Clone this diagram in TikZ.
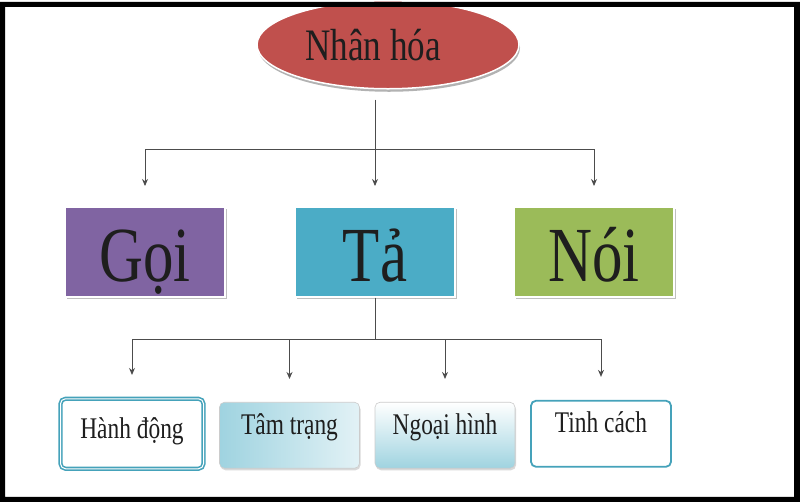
\documentclass[tikz,border=0pt]{standalone}
\usepackage{fontspec}
\setmainfont[FakeStretch=0.78]{Liberation Serif}
\usetikzlibrary{arrows.meta,shapes,shadows}

\definecolor{rootred}{HTML}{C0504D}
\definecolor{goipurple}{HTML}{8064A2}
\definecolor{tablue}{HTML}{4BACC6}
\definecolor{noigreen}{HTML}{9BBB59}
\definecolor{edgeteal}{HTML}{45A2BA}
\definecolor{softcyan}{HTML}{9FD3E0}
\definecolor{inkgray}{HTML}{1E1E1E}

\begin{document}
\begin{tikzpicture}[x=1pt,y=-1pt,>={Stealth[length=7pt,width=6pt]},
  link/.style={->,draw=black!70,line width=0.9pt},
  plain link/.style={draw=black!70,line width=0.9pt},
  root node/.style={ellipse,draw=white,line width=1.5pt,fill=rootred,minimum width=262pt,minimum height=88pt,text=inkgray,font=\fontsize{45}{50}\selectfont,drop shadow={shadow xshift=1pt,shadow yshift=-3pt,opacity=1,fill=black!30}},
  main node/.style={rectangle,draw=white,line width=1.5pt,minimum width=160pt,minimum height=90pt,text height=60pt,text depth=0pt,text=inkgray,font=\fontsize{78}{82}\selectfont,drop shadow={shadow xshift=2pt,shadow yshift=-2pt,opacity=1,fill=black!25}},
  leaf node/.style={rectangle,rounded corners=5pt,minimum width=140pt,minimum height=66pt,text=inkgray,font=\fontsize{30}{34}\selectfont},
  ring leaf/.style={leaf node,fill=white,draw=edgeteal,line width=1.6pt,double=white,double distance=1pt,text height=20pt,text depth=10pt},
  frame leaf/.style={leaf node,fill=white,draw=edgeteal,line width=1.8pt,text height=20pt,text depth=22pt},
  shade leaf/.style={leaf node,draw=black!20,line width=0.6pt,text height=20pt,text depth=22pt,drop shadow={shadow xshift=1pt,shadow yshift=-2pt,opacity=1,fill=black!15}}]

  % page
  \fill[white] (0,0) rectangle (800,500);

  % top
  \node[root node] (nh) at (388,43) {Nhân hóa\kern30pt};

  % second row
  \node[main node,fill=goipurple] (goi) at (145,250) {Gọi};
  \node[main node,fill=tablue] (ta) at (375,250) {Tả};
  \node[main node,fill=noigreen] (noi) at (594,250) {Nói};

  % third row
  \node[ring leaf,minimum width=143pt,minimum height=70pt] (hd) at (132,432) {Hành động};
  \node[shade leaf,left color=softcyan,right color=white!70!softcyan] (tt) at (289.5,433.5) {Tâm trạng};
  \node[shade leaf,top color=white,bottom color=softcyan] (ngh) at (445,433.5) {Ngoại hình};
  \node[frame leaf] (tc) at (601,432) {Tinh cách};

  \coordinate (fork top) at (375,148);
  \coordinate (fork low) at (375,338);

  \draw[link,shorten <=10pt,shorten >=20pt] (nh.south -| ta.north) -- (ta.north);
  \foreach \side in {goi,noi}
    \draw[link,shorten >=20pt] (fork top) -| (\side.north);

  \draw[plain link] (ta.south) -- (fork low);
  \foreach \leaf in {hd,tt,ngh,tc}
    \draw[link,shorten >=23pt] (fork low) -| (\leaf.north);

  % black frame
  \fill[black,even odd rule] (0,0) rectangle (800,500) (5,5) rectangle (794,495);
\end{tikzpicture}
\end{document}
